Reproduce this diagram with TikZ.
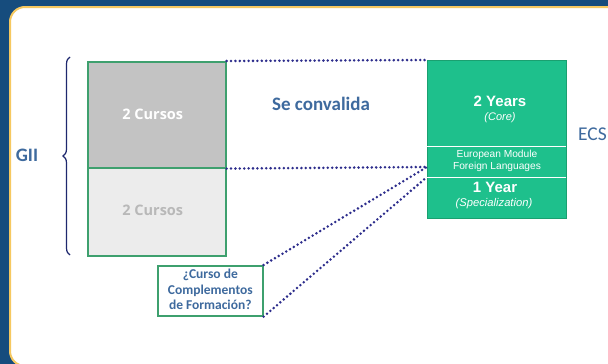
\documentclass[tikz,border=0pt]{standalone}
\usepackage{fontspec}
\setmainfont{Carlito}
\newfontfamily\arialf{Liberation Sans}
\newfontfamily\widef{Open Sans}
\usetikzlibrary{decorations.pathreplacing}
\definecolor{bgblue}{RGB}{22,76,125}
\definecolor{panelborder}{RGB}{246,200,96}
\definecolor{boxgreen}{RGB}{62,160,110}
\definecolor{topgray}{RGB}{195,195,195}
\definecolor{botgray}{RGB}{236,236,236}
\definecolor{ecsgreen}{RGB}{30,192,140}
\definecolor{ecsborder}{RGB}{26,160,112}
\definecolor{dotnavy}{RGB}{45,45,140}
\definecolor{txtblue}{RGB}{62,106,158}
\definecolor{bracenavy}{RGB}{30,40,110}
\tikzset{
  cbox/.style={draw=boxgreen, line width=1.6pt},
  dotline/.style={draw=dotnavy, line width=2.8pt, line cap=round, dash pattern=on 0pt off 4.4pt},
}
\begin{document}
\begin{tikzpicture}[x=1pt,y=-1pt]
\useasboundingbox (0,0) rectangle (608,364);
\fill[bgblue] (0,0) rectangle (608,364);
\fill[white, draw=panelborder, line width=2pt, rounded corners=15pt] (10,7) rectangle (650,366);
% left boxes
\node[cbox, fill=topgray, minimum width=138pt, minimum height=106pt, inner sep=0pt, anchor=north west] (top) at (87,61) {};
\node[cbox, fill=botgray, minimum width=138pt, minimum height=88pt, inner sep=0pt, anchor=north west] (bot) at (87,167) {};
\node[text=white, font=\widef\bfseries\fontsize{14.5}{17}\selectfont] (t1) at ([xshift=-4pt]top.center) {2 Cursos};
\node[text=black!28, font=\widef\bfseries\fontsize{14.5}{17}\selectfont] (t2) at ([xshift=-4pt,yshift=1pt]bot.center) {2 Cursos};
% brace
\draw[bracenavy, line width=1.2pt, decorate, decoration={brace, amplitude=7pt}] (70,255) -- (70,57) coordinate (bt);
\node[text=txtblue, font=\bfseries\fontsize{19}{22}\selectfont, anchor=center] (gii) at (27,155) {GII};
% complement box
\node[cbox, fill=white, minimum width=105pt, minimum height=50pt, inner sep=0pt, anchor=north west] (comp) at (157,265) {};
\node[text=txtblue, font=\bfseries\fontsize{13.5}{15.5}\selectfont, align=center] (ctxt) at ([yshift=1pt]comp.center) {¿Curso de\\Complementos\\de Formación?};
% green box
\node[draw=ecsborder, fill=ecsgreen, line width=1.2pt, minimum width=139pt, minimum height=158pt, inner sep=0pt, anchor=north west] (ecs) at (427,60) {};
\coordinate (l1w) at (427,146);
\coordinate (l1e) at (566,146);
\coordinate (l2w) at (427,177);
\coordinate (l2e) at (566,177);
\draw[white, line width=0.8pt] (l1w) -- (l1e);
\draw[white, line width=0.8pt] (l2w) -- (l2e);
\node[text=white, font=\arialf\bfseries\fontsize{15}{17}\selectfont] (y2) at (500,101) {2 Years};
\node[text=white, font=\arialf\itshape\fontsize{11}{13}\selectfont] (core) at (500,118) {(Core)};
\node[text=white, font=\arialf\fontsize{10.2}{12.5}\selectfont, align=center] (eur) at (497,161) {European Module\\Foreign Languages};
\node[text=white, font=\arialf\bfseries\fontsize{15}{17}\selectfont] (y1) at (495,187) {1 Year};
\node[text=white, font=\arialf\itshape\fontsize{11.2}{13}\selectfont] (spec) at (494,204) {(Specialization)};
% labels
\node[text=txtblue, font=\bfseries\fontsize{19}{22}\selectfont] (conv) at (321,104) {Se convalida};
\node[text=txtblue, font=\fontsize{19.5}{22}\selectfont, anchor=east, inner sep=0pt] (ecslbl) at (607,134) {ECS};
% dotted connectors
\draw[dotline] (top.north east) -- (ecs.north west);
\draw[dotline] (top.south east) -- (l2w |- 0,167);
\draw[dotline] (comp.north east) -- (ecs.west |- 0,167);
\draw[dotline] (comp.south east) -- (l2w);
\end{tikzpicture}
\end{document}
